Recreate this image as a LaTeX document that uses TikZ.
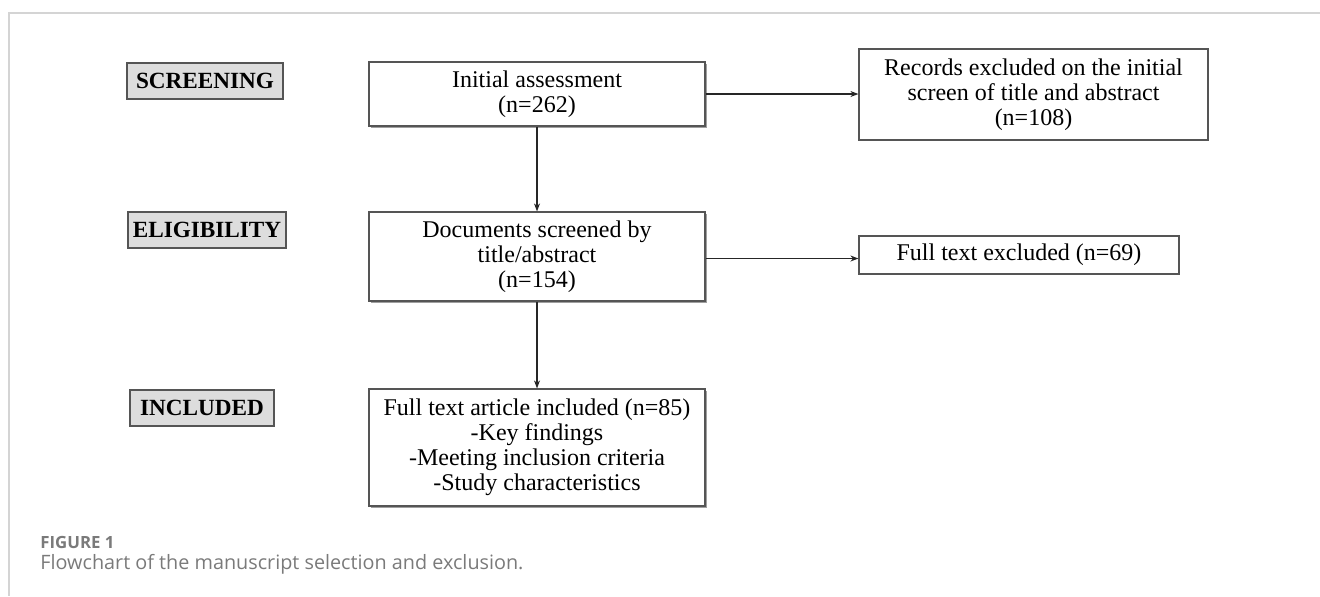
\documentclass[tikz,border=0pt]{standalone}
\usepackage{fontspec}
\setmainfont{Liberation Serif}
\newfontfamily\capfont{Open Sans}
\usetikzlibrary{arrows.meta,positioning,shadows}
\definecolor{framegray}{HTML}{D4D4D4}
\definecolor{stagefill}{HTML}{DDDDDD}
\definecolor{boxline}{HTML}{555555}
\definecolor{capgray}{HTML}{7A7A7A}
\tikzset{
  stagebox/.style={
    rectangle, draw=boxline, fill=stagefill, line width=0.8pt,
    minimum width=#1, minimum height=18pt,
    font=\fontsize{11.6}{13}\selectfont\bfseries, align=center,
    inner sep=2pt
  },
  stagebox/.default=78pt,
  flowbox/.style={
    rectangle, draw=boxline, fill=white, line width=0.6pt,
    minimum width=168pt, minimum height=#1,
    font=\fontsize{12}{12.5}\selectfont, align=center,
    inner sep=2pt,
    drop shadow={shadow xshift=1.1pt, shadow yshift=-1.1pt, fill=gray!75, opacity=1}
  },
  flowbox/.default=32pt,
  exclbox/.style={
    rectangle, draw=boxline, fill=white, line width=0.6pt,
    minimum height=#1,
    font=\fontsize{12}{12.5}\selectfont, align=center,
    inner sep=2pt
  },
  exclbox/.default=19pt,
  flowarrow/.style={
    -{Stealth[length=4pt, width=3pt]}, line width=0.6pt, color=black!85
  },
}
\begin{document}
\begin{tikzpicture}[x=0.5pt, y=-0.5pt]
  \useasboundingbox (0,0) rectangle (1320,596);
  % frame of the figure
  \draw[framegray, line width=0.6pt] (1320,13) -- (9,13) -- (9,596);

  % Stages
  \node[stagebox=78pt] (screening) at (205,81) {SCREENING};
  \node[stagebox=79pt] (eligibility) at (207,230) {ELIGIBILITY};
  \node[stagebox=72pt] (included) at (202,408) {INCLUDED};

  % Main flow
  \node[flowbox=32pt] (initial) at (537,94) {Initial assessment\\(n=262)};
  \node[flowbox=44.5pt] (screened) at (537,256.5) {Documents screened by\\title/abstract\\(n=154)};
  \node[flowbox=58.5pt] (fulltext) at (537,447.5) {Full text article included (n=85)\\-Key findings\\-Meeting inclusion criteria\\-Study characteristics};

  % Exclusions
  \node[exclbox=45.5pt, minimum width=174.5pt] (records) at (1033.5,94.5) {Records excluded on the initial\\screen of title and abstract\\(n=108)};
  \node[exclbox=19pt, minimum width=160pt] (ftexcl) at (1019,255) {Full text excluded (n=69)};

  \draw[flowarrow] (initial.south) -- (screened.north);
  \draw[flowarrow] (screened.south) -- (fulltext.north);
  \draw[flowarrow] (initial.east) -- (initial.east -| records.west);
  \draw[flowarrow] ([yshift=-1pt]screened.east) -- ([yshift=-1pt]screened.east -| ftexcl.west);

  % Caption
  \node[anchor=west, font=\capfont\fontsize{8.4}{9}\selectfont\bfseries, text=capgray, inner sep=0pt] (figlabel) at (40,542) {FIGURE 1};
  \node[anchor=west, font=\capfont\fontsize{9.9}{11}\selectfont, text=capgray, inner sep=0pt] (caption) at (40,564) {Flowchart of the manuscript selection and exclusion.};
\end{tikzpicture}
\end{document}
